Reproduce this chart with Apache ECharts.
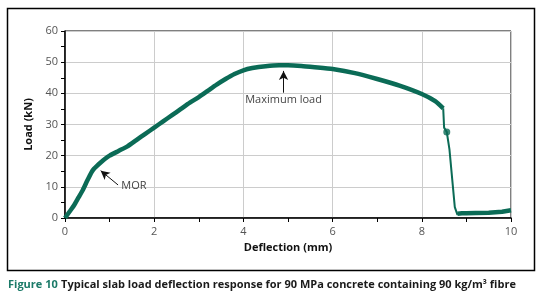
<!DOCTYPE html>
<html>
<head>
<meta charset="utf-8">
<script src="https://cdn.jsdelivr.net/npm/echarts@6/dist/echarts.min.js"></script>
<style>
  html, body { margin: 0; padding: 0; background: #fff; }
  #chart-container { width: 541px; height: 298px; }
</style>
</head>
<body>
<div id="chart-container"></div>
<script>
// load-deflection curve (mm, kN)
const riseDeflection = [0, 0.1, 0.2, 0.3, 0.4, 0.5, 0.6, 0.65, 0.7, 0.8, 0.9, 1.0, 1.2, 1.4, 1.6, 1.8, 2.0, 2.2, 2.4, 2.6, 2.8, 3.0, 3.2, 3.4, 3.6, 3.8, 4.0, 4.2, 4.5, 4.8, 5.0, 5.3, 5.6, 6.0, 6.5, 7.0, 7.5, 8.0, 8.3, 8.48];
const riseLoad = [0, 2, 4, 6.5, 9, 12, 14.8, 15.8, 16.5, 17.8, 19, 20, 21.5, 23, 25, 27, 29, 31, 33, 35, 37, 38.8, 40.8, 42.8, 44.6, 46.2, 47.4, 48.1, 48.7, 49, 49, 48.8, 48.4, 47.8, 46.5, 44.6, 42.5, 39.8, 37.5, 35.2];
const dropDeflection = [8.48, 8.5, 8.56, 8.62, 8.74, 8.8];
const dropLoad = [35.2, 29, 27.6, 22, 3.5, 1];
const tailDeflection = [8.8, 8.9, 9.0, 9.2, 9.5, 9.8, 10.0];
const tailLoad = [1.4, 1.5, 1.5, 1.6, 1.7, 2.0, 2.5];
const blobPoint = [8.56, 27.6];

const xTicks = { min: 0, max: 10, interval: 2 };
const yTicks = { min: 0, max: 60, interval: 10 };

const lineColor = "#0b6b56";
const pair = (xs, ys) => xs.map((x, i) => [x, ys[i]]);

let element = document.getElementById("chart-container");
let myChart = echarts.init(element, null, { renderer: "canvas" });

let option = {
  animation: false,
  grid: {
    left: 65, top: 31, right: 30, bottom: 80,
    show: true, borderColor: "#000", borderWidth: 1
  },
  xAxis: {
    type: "value",
    min: xTicks.min, max: xTicks.max, interval: xTicks.interval,
    name: "Deflection (mm)",
    nameLocation: "middle",
    nameGap: 24,
    nameTextStyle: { fontFamily: "Open Sans", fontWeight: "bold", fontSize: 11, color: "#111" },
    axisLine: { lineStyle: { color: "#000", width: 1.5 } },
    axisTick: { inside: false, length: 4, lineStyle: { color: "#000" } },
    minorTick: { show: true, splitNumber: 2, length: 4, lineStyle: { color: "#000" } },
    axisLabel: { fontFamily: "Open Sans", fontSize: 11, color: "#555", margin: 8 },
    splitLine: { lineStyle: { color: "#ccc", width: 1 } }
  },
  yAxis: {
    type: "value",
    min: yTicks.min, max: yTicks.max, interval: yTicks.interval,
    name: "Load (kN)",
    nameLocation: "middle",
    nameGap: 27,
    nameTextStyle: { fontFamily: "Open Sans", fontWeight: "bold", fontSize: 11, color: "#111" },
    axisLine: { show: true, lineStyle: { color: "#000", width: 1.5 } },
    axisTick: { show: true, inside: false, length: 4, lineStyle: { color: "#000" } },
    minorTick: { show: true, splitNumber: 2, length: 4, lineStyle: { color: "#000" } },
    axisLabel: { fontFamily: "Open Sans", fontSize: 11, color: "#555", margin: 7 },
    splitLine: { lineStyle: { color: "#ccc", width: 1 } }
  },
  series: [
    {
      type: "line",
      data: pair(riseDeflection, riseLoad),
      showSymbol: false,
      smooth: 0.2,
      lineStyle: { color: lineColor, width: 4.5 },
      markLine: {
        silent: true,
        symbol: ["none", "arrow"],
        symbolSize: [7, 9],
        label: { show: false },
        lineStyle: { color: "#111", width: 1, type: "solid" },
        data: [
          [{ coord: [4.9, 40.2] }, { coord: [4.9, 47.2] }],
          [{ coord: [1.19, 10.6] }, { coord: [0.8, 15.2] }]
        ]
      },
      markPoint: {
        silent: true,
        symbol: "circle",
        symbolSize: 0,
        label: {
          show: true,
          color: "#444",
          fontFamily: "Open Sans",
          fontSize: 11
        },
        data: [
          { coord: [4.9, 38], value: "Maximum load", label: { position: "inside", formatter: "Maximum load" } },
          { coord: [1.24, 10.3], value: "MOR", label: { position: "right", offset: [-4, 0], formatter: "MOR" } }
        ]
      }
    },
    {
      type: "line",
      data: pair(dropDeflection, dropLoad),
      showSymbol: false,
      lineStyle: { color: lineColor, width: 2 }
    },
    {
      type: "line",
      data: pair(tailDeflection, tailLoad),
      showSymbol: false,
      lineStyle: { color: lineColor, width: 4.5 }
    },
    {
      type: "scatter",
      data: [blobPoint],
      symbolSize: 7,
      itemStyle: { color: lineColor }
    }
  ],
  graphic: [
    {
      type: "rect",
      shape: { x: 7.5, y: 8.5, width: 527, height: 262 },
      style: { fill: "none", stroke: "#000", lineWidth: 1.5 },
      silent: true
    },
    {
      type: "text",
      left: 8,
      top: 279,
      style: {
        text: "{a|Figure 10} {b|Typical slab load deflection response for 90 MPa concrete containing 90 kg/m³ fibre}",
        rich: {
          a: { fontFamily: "Open Sans", fontWeight: "bold", fontSize: 11, fill: "#1b7a68" },
          b: { fontFamily: "Open Sans", fontWeight: "bold", fontSize: 11, fill: "#1a1a1a" }
        }
      }
    }
  ]
};
option && myChart.setOption(option);
</script>
</body>
</html>
